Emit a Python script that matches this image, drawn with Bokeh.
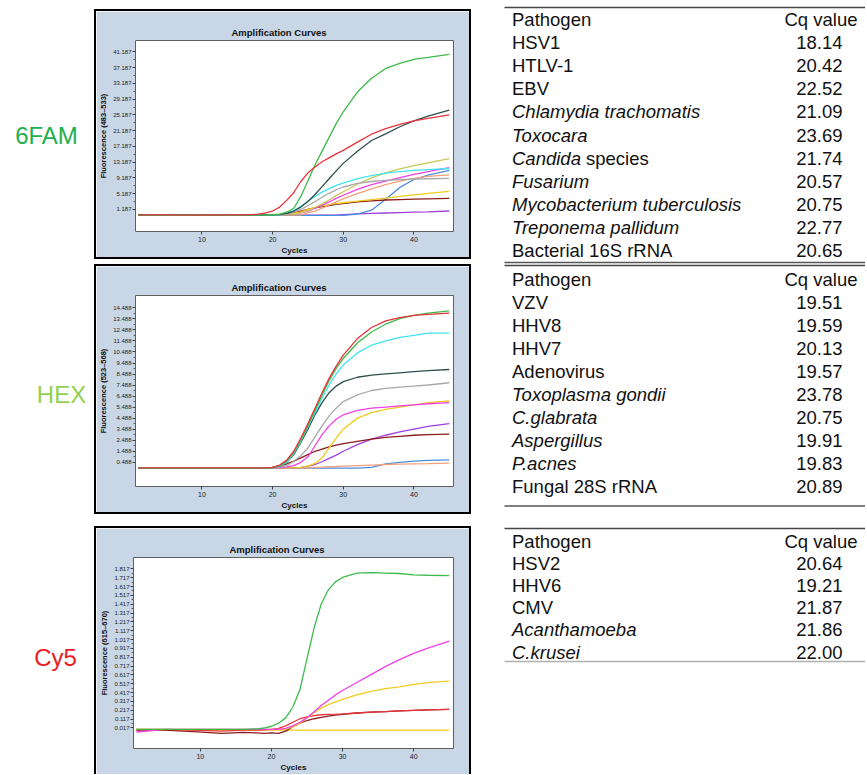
from bokeh.plotting import figure
from bokeh.layouts import row, column
from bokeh.models import (Range1d, FixedTicker, PrintfTickFormatter, Spacer, ColumnDataSource)
from bokeh.core.properties import value
from bokeh.embed import file_html
from bokeh.resources import INLINE

# ------------------------------------------------------------------ data
cycles = [1, 5, 9, 13, 16, 18, 19, 20, 21, 22, 23, 24, 25, 26, 27, 28, 29, 30,
          32, 34, 36, 38, 40, 42, 45]

# 6FAM channel (fluorescence 483-533)
fam_green = [-0.2, -0.2, -0.2, -0.2, -0.2, -0.2, -0.2, -0.15, 0.0, 0.5, 1.5, 4.5, 8.5, 12.5, 16.0, 19.5, 23.0, 26.0, 31.0, 34.5, 37.0, 38.3, 39.3, 39.8, 40.6]
fam_red = [-0.2, -0.2, -0.25, -0.2, -0.2, 0.0, 0.3, 0.8, 1.8, 3.5, 5.5, 8.3, 10.5, 12.0, 13.3, 14.3, 15.3, 16.2, 18.3, 20.3, 21.7, 22.8, 23.7, 24.3, 25.2]
fam_slate = [-0.2, -0.2, -0.2, -0.2, -0.2, -0.2, -0.2, -0.2, -0.1, 0.2, 0.8, 1.8, 3.2, 5.0, 7.0, 9.0, 11.0, 12.9, 16.0, 18.7, 20.4, 22.2, 23.7, 24.9, 26.4]
fam_cyan = [-0.2, -0.2, -0.2, -0.2, -0.2, -0.2, -0.2, -0.2, -0.2, 0.3, 0.9, 2.0, 3.3, 4.5, 5.6, 6.5, 7.3, 7.9, 9.0, 9.8, 10.4, 10.8, 11.1, 11.3, 11.6]
fam_gray = [-0.2, -0.2, -0.2, -0.2, -0.2, -0.2, -0.2, -0.2, -0.2, -0.2, 0.5, 1.2, 2.2, 3.2, 4.3, 5.3, 6.2, 6.9, 7.8, 8.3, 8.6, 8.8, 8.9, 9.0, 9.1]
fam_khaki = [-0.2, -0.2, -0.2, -0.2, -0.2, -0.2, -0.2, -0.2, -0.2, -0.2, -0.2, 0.3, 0.9, 1.7, 2.6, 3.6, 4.7, 5.7, 7.6, 9.2, 10.5, 11.5, 12.3, 13.0, 14.1]
fam_magenta = [-0.2, -0.2, -0.2, -0.2, -0.2, -0.2, -0.2, -0.2, -0.2, -0.2, -0.2, 0.3, 0.8, 1.5, 2.3, 3.1, 4.0, 4.8, 6.3, 7.5, 8.4, 9.3, 10.1, 10.8, 11.8]
fam_orange = [-0.2, -0.2, -0.2, -0.2, -0.2, -0.2, -0.2, -0.2, -0.2, -0.2, -0.2, -0.2, 0.3, 0.8, 1.5, 2.3, 3.1, 3.9, 5.2, 6.4, 7.5, 8.4, 9.1, 9.6, 10.0]
fam_blue = [-0.3, -0.3, -0.3, -0.3, -0.3, -0.3, -0.3, -0.3, -0.3, -0.3, -0.3, -0.3, -0.3, -0.3, -0.3, -0.3, -0.3, -0.3, 0.0, 1.0, 3.8, 6.8, 8.8, 9.9, 11.1]
fam_gold = [-0.2, -0.2, -0.2, -0.2, -0.2, -0.2, -0.2, -0.2, -0.2, -0.2, 0.2, 0.6, 1.2, 1.7, 2.1, 2.4, 2.7, 2.9, 3.3, 3.7, 4.1, 4.5, 4.9, 5.3, 5.8]
fam_brown = [-0.2, -0.2, -0.2, -0.2, -0.2, -0.2, -0.2, -0.2, -0.2, 0.1, 0.4, 0.8, 1.2, 1.6, 1.9, 2.2, 2.5, 2.7, 3.1, 3.4, 3.6, 3.7, 3.8, 3.9, 4.0]
fam_purple = [-0.25, -0.25, -0.25, -0.25, -0.25, -0.25, -0.25, -0.25, -0.25, -0.25, -0.25, -0.25, -0.25, -0.25, -0.25, -0.25, -0.25, -0.1, 0.1, 0.2, 0.3, 0.4, 0.5, 0.6, 0.8]

# HEX channel (fluorescence 523-568)
hex_red = [0.0, 0.0, 0.0, 0.0, 0.0, 0.0, 0.0, 0.05, 0.25, 0.7, 1.5, 2.7, 4.0, 5.4, 6.8, 8.1, 9.2, 10.2, 11.7, 12.7, 13.3, 13.6, 13.8, 13.9, 14.0]
hex_green = [0.0, 0.0, 0.0, 0.0, 0.0, 0.0, 0.0, 0.03, 0.2, 0.6, 1.4, 2.5, 3.8, 5.2, 6.6, 7.9, 9.0, 9.9, 11.3, 12.3, 13.0, 13.5, 13.8, 14.0, 14.2]
hex_cyan = [0.0, 0.0, 0.0, 0.0, 0.0, 0.0, 0.0, 0.03, 0.18, 0.5, 1.3, 2.4, 3.7, 5.0, 6.3, 7.5, 8.5, 9.3, 10.4, 11.1, 11.5, 11.8, 12.0, 12.2, 12.2]
hex_slate = [0.0, 0.0, 0.0, 0.0, 0.0, 0.0, 0.0, 0.03, 0.18, 0.5, 1.2, 2.3, 3.5, 4.8, 5.9, 6.8, 7.4, 7.8, 8.2, 8.4, 8.5, 8.6, 8.7, 8.8, 8.9]
hex_gray = [0.0, 0.0, 0.0, 0.0, 0.0, 0.0, 0.0, 0.02, 0.08, 0.2, 0.6, 1.1, 1.8, 2.8, 3.8, 4.7, 5.4, 6.0, 6.6, 7.0, 7.2, 7.3, 7.4, 7.5, 7.7]
hex_magenta = [0.0, 0.0, 0.0, 0.0, 0.0, 0.0, 0.0, 0.0, 0.03, 0.08, 0.2, 0.5, 1.0, 2.0, 3.0, 3.8, 4.4, 4.8, 5.2, 5.4, 5.5, 5.6, 5.7, 5.8, 5.9]
hex_yellow = [0.0, 0.0, 0.0, 0.0, 0.0, 0.0, 0.0, 0.0, 0.0, 0.0, 0.0, 0.05, 0.15, 0.4, 0.9, 1.8, 2.7, 3.5, 4.5, 5.0, 5.3, 5.5, 5.7, 5.9, 6.05]
hex_brown = [0.0, 0.0, 0.0, 0.0, 0.0, 0.0, 0.0, 0.05, 0.15, 0.35, 0.6, 0.9, 1.2, 1.5, 1.7, 1.9, 2.05, 2.2, 2.4, 2.6, 2.75, 2.85, 2.95, 3.0, 3.05]
hex_purple = [0.0, 0.0, 0.0, 0.0, 0.0, 0.0, 0.0, 0.0, 0.0, 0.0, 0.0, 0.05, 0.15, 0.3, 0.55, 0.85, 1.15, 1.5, 2.1, 2.6, 2.95, 3.25, 3.5, 3.75, 4.0]
hex_orange = [0.0, 0.0, 0.0, 0.0, 0.0, 0.0, 0.0, 0.0, 0.0, 0.0, 0.0, 0.0, 0.0, 0.05, 0.07, 0.1, 0.12, 0.15, 0.2, 0.25, 0.3, 0.33, 0.36, 0.38, 0.42]
hex_blue = [-0.03, -0.03, -0.03, -0.03, -0.03, -0.03, -0.03, -0.03, -0.03, -0.03, -0.03, -0.03, -0.03, -0.03, -0.03, -0.03, -0.03, -0.03, -0.03, 0.05, 0.35, 0.5, 0.6, 0.68, 0.72]

# Cy5 channel (fluorescence 615-670)
cy5_green = [0.0, 0.0, 0.0, 0.0, 0.0, 0.005, 0.015, 0.035, 0.07, 0.13, 0.25, 0.45, 0.8, 1.15, 1.42, 1.58, 1.67, 1.72, 1.77, 1.775, 1.77, 1.765, 1.75, 1.745, 1.74]
cy5_magenta = [-0.03, 0.0, 0.0, 0.0, 0.0, 0.0, 0.0, 0.0, 0.0, 0.01, 0.04, 0.08, 0.13, 0.2, 0.27, 0.33, 0.39, 0.44, 0.53, 0.62, 0.71, 0.79, 0.86, 0.92, 1.0]
cy5_yellow = [0.0, 0.0, 0.0, 0.0, 0.0, 0.0, 0.0, 0.0, 0.0, 0.0, 0.03, 0.07, 0.13, 0.19, 0.24, 0.28, 0.31, 0.34, 0.39, 0.43, 0.46, 0.48, 0.51, 0.53, 0.545]
cy5_red = [0.0, 0.0, -0.01, -0.02, -0.01, -0.01, -0.005, 0.0, 0.01, 0.04, 0.08, 0.12, 0.14, 0.155, 0.165, 0.17, 0.172, 0.175, 0.185, 0.195, 0.2, 0.21, 0.215, 0.22, 0.225]
cy5_brown = [-0.01, -0.01, -0.025, -0.045, -0.035, -0.04, -0.045, -0.04, -0.045, -0.02, 0.03, 0.07, 0.1, 0.12, 0.135, 0.15, 0.16, 0.17, 0.185, 0.195, 0.2, 0.21, 0.215, 0.22, 0.225]
cy5_gold = [-0.01, -0.01, -0.01, -0.01, -0.01, -0.01, -0.01, -0.01, -0.01, -0.01, -0.01, -0.01, -0.01, -0.01, -0.01, -0.01, -0.01, -0.01, -0.01, -0.01, -0.01, -0.01, -0.01, -0.01, -0.01]

# axis tick labels
fam_yticks = [1.187, 5.187, 9.187, 13.187, 17.187, 21.187, 25.187, 29.187, 33.187, 37.187, 41.187]
hex_yticks = [0.488, 1.488, 2.488, 3.488, 4.488, 5.488, 6.488, 7.488, 8.488, 9.488, 10.488, 11.488, 12.488, 13.488, 14.488]
cy5_yticks = [0.017, 0.117, 0.217, 0.317, 0.417, 0.517, 0.617, 0.717, 0.817, 0.917, 1.017, 1.117, 1.217, 1.317, 1.417, 1.517, 1.617, 1.717, 1.817]
x_ticks = [10, 20, 30, 40]

channels = ["6FAM", "HEX", "Cy5"]
channel_ylabels = ["Fluorescence (483–533)", "Fluorescence (523–568)", "Fluorescence (615–670)"]

# tables
fam_names = ["HSV1", "HTLV-1", "EBV", "Chlamydia trachomatis", "Toxocara", "Candida species",
             "Fusarium", "Mycobacterium tuberculosis", "Treponema pallidum", "Bacterial 16S rRNA"]
fam_italic = ["", "", "", "Chlamydia trachomatis", "Toxocara", "Candida", "Fusarium",
              "Mycobacterium tuberculosis", "Treponema pallidum", ""]
fam_cq = ["18.14", "20.42", "22.52", "21.09", "23.69", "21.74", "20.57", "20.75", "22.77", "20.65"]

hex_names = ["VZV", "HHV8", "HHV7", "Adenovirus", "Toxoplasma gondii", "C.glabrata",
             "Aspergillus", "P.acnes", "Fungal 28S rRNA"]
hex_italic = ["", "", "", "", "Toxoplasma gondii", "C.glabrata", "Aspergillus", "P.acnes", ""]
hex_cq = ["19.51", "19.59", "20.13", "19.57", "23.78", "20.75", "19.91", "19.83", "20.89"]

cy5_names = ["HSV2", "HHV6", "CMV", "Acanthamoeba", "C.krusei"]
cy5_italic = ["", "", "", "Acanthamoeba", "C.krusei"]
cy5_cq = ["20.64", "19.21", "21.87", "21.86", "22.00"]

header = ["Pathogen", "Cq value"]

# ------------------------------------------------------------------ styles / layout
C_GREEN, C_RED, C_SLATE, C_CYAN = "#3dbb4a", "#e8343a", "#2f4f4f", "#40e4f0"
C_GRAY, C_KHAKI, C_MAG, C_ORANGE = "#a8a8a8", "#c8c858", "#f040e8", "#f4a07a"
C_BLUE, C_GOLD, C_BROWN, C_PURPLE = "#4a8ee0", "#f0cc20", "#8b1c1c", "#a040e0"

PANEL_BG = "#c8d6e6"
PANEL_W = 377
BW = 2                      # black panel border
FONT = "Liberation Sans"
BLACK = {"background-color": "#000000"}


def chart(curves, colors, y_lo, y_hi, yticks, ylabel, panel_h, bottom_bar=True):
    fig_h = panel_h - BW - (BW if bottom_bar else 0)
    p = figure(width=PANEL_W - 2 * BW, height=fig_h,
               x_range=Range1d(0.6, 45.6), y_range=Range1d(y_lo, y_hi),
               output_backend="svg", toolbar_location=None,
               min_border_left=39 - BW, min_border_right=18 - BW,
               min_border_top=31 - BW, min_border_bottom=fig_h - (31 - BW) - 194)
    p.background_fill_color = "white"
    p.border_fill_color = PANEL_BG
    p.outline_line_color = "#606060"
    p.outline_line_width = 1
    p.grid.visible = False

    p.title.text = "Amplification Curves"
    p.title.text_font = FONT
    p.title.text_font_size = "9.5px"
    p.title.text_font_style = "bold"
    p.title.text_color = "#111111"
    p.title.align = "left"
    p.title.offset = 96
    p.title.standoff = 5

    xa = p.xaxis[0]
    xa.ticker = FixedTicker(ticks=x_ticks, minor_ticks=[])
    xa.axis_label = "Cycles"
    ya = p.yaxis[0]
    minor = [(a + b) / 2 for a, b in zip(yticks, yticks[1:])]
    ya.ticker = FixedTicker(ticks=yticks, minor_ticks=minor)
    ya.formatter = PrintfTickFormatter(format="%.3f")
    ya.axis_label = ylabel
    for ax in (xa, ya):
        ax.axis_line_color = None
        ax.major_tick_line_color = "#404040"
        ax.minor_tick_line_color = "#606060"
        ax.major_tick_in = 0
        ax.major_tick_out = 3
        ax.minor_tick_in = 0
        ax.minor_tick_out = 2
        ax.major_label_text_font = FONT
        ax.major_label_text_color = "#222222"
        ax.major_label_standoff = 1
        ax.axis_label_text_font = FONT
        ax.axis_label_text_font_style = "bold"
        ax.axis_label_text_color = "#111111"
        ax.axis_label_standoff = 2
    xa.major_label_text_font_size = "7px"
    ya.major_label_text_font_size = "6px"
    xa.axis_label_text_font_size = "8px"
    ya.axis_label_text_font_size = "7.5px"
    xa.axis_label_standoff = 1
    xa.major_label_standoff = 2

    for vals, col in zip(curves, colors):
        p.line(cycles, vals, line_color=col, line_width=1.3)

    side_h = fig_h
    parts = [Spacer(width=PANEL_W, height=BW, styles=BLACK),
             row(Spacer(width=BW, height=side_h, styles=BLACK), p,
                 Spacer(width=BW, height=side_h, styles=BLACK), spacing=0)]
    if bottom_bar:
        parts.append(Spacer(width=PANEL_W, height=BW, styles=BLACK))
    return column(*parts, spacing=0)


fam_panel = chart(
    [fam_purple, fam_blue, fam_brown, fam_gold, fam_orange, fam_magenta, fam_khaki,
     fam_gray, fam_cyan, fam_slate, fam_green, fam_red],
    [C_PURPLE, C_BLUE, C_BROWN, C_GOLD, C_ORANGE, C_MAG, C_KHAKI, C_GRAY, C_CYAN,
     C_SLATE, C_GREEN, C_RED],
    -4.4, 44.1, fam_yticks, channel_ylabels[0], 250)

hex_panel = chart(
    [hex_blue, hex_orange, hex_purple, hex_brown, hex_yellow, hex_magenta, hex_gray,
     hex_slate, hex_cyan, hex_green, hex_red],
    [C_BLUE, C_ORANGE, C_PURPLE, C_BROWN, C_GOLD, C_MAG, C_GRAY, C_SLATE, C_CYAN,
     C_GREEN, C_RED],
    -1.69, 15.6, hex_yticks, channel_ylabels[1], 250)

cy5_panel = chart(
    [cy5_gold, cy5_brown, cy5_red, cy5_yellow, cy5_magenta, cy5_green],
    [C_GOLD, C_BROWN, C_RED, C_GOLD, C_MAG, C_GREEN],
    -0.217, 1.946, cy5_yticks, channel_ylabels[2], 248, bottom_bar=False)

PAGE_H = 774

# ---- left labels (coordinates = screenshot pixels)
left = figure(width=94, height=PAGE_H, x_range=Range1d(1, 95), y_range=Range1d(775, 1),
              output_backend="svg", toolbar_location=None, x_axis_type=None, y_axis_type=None,
              min_border=0)
left.outline_line_color = None
left.grid.visible = False
label_layout = dict(x=[47, 62, 56], y=[136, 395, 658])
left.text(x=label_layout["x"], y=label_layout["y"], text=channels,
          text_color=["#1eb050", "#92d050", "#ea1c24"],
          text_font=value(FONT), text_font_size="24px", text_align="center",
          text_baseline="middle")

# ---- tables (coordinates = screenshot pixels)
tab = figure(width=394, height=PAGE_H, x_range=Range1d(472, 866), y_range=Range1d(775, 1),
             output_backend="svg", toolbar_location=None, x_axis_type=None, y_axis_type=None,
             min_border=0)
tab.outline_line_color = None
tab.grid.visible = False

TX_L, TX_CQ, TX_NUM, LINE_L, LINE_R = 512.5, 858, 843, 505, 866
TFS = 18.5
table_layout = [
    dict(names=fam_names, italic=fam_italic, cq=fam_cq, top=8, head=20, first=43.1, step=23.1,
         bottom=263, bottom_color="#555555"),
    dict(names=hex_names, italic=hex_italic, cq=hex_cq, top=266, head=280, first=303.3, step=23.0,
         bottom=506.5, bottom_color="#555555"),
    dict(names=cy5_names, italic=cy5_italic, cq=cy5_cq, top=529, head=541.5, first=563.5, step=22.3,
         bottom=662, bottom_color="#b0b0b0"),
]
ARIAL_W = {"C": 722, "a": 556, "n": 556, "d": 556, "i": 222, " ": 278}

reg = dict(x=[], y=[], t=[])
ita = dict(x=[], y=[], t=[])
nums = dict(x=[], y=[], t=[])
heads_l = dict(x=[], y=[], t=[])
heads_r = dict(x=[], y=[], t=[])
seg = dict(x0=[], x1=[], y0=[], y1=[], c=[])

for t in table_layout:
    heads_l["x"].append(TX_L); heads_l["y"].append(t["head"]); heads_l["t"].append(header[0])
    heads_r["x"].append(TX_CQ); heads_r["y"].append(t["head"]); heads_r["t"].append(header[1])
    for i, (nm, it, cq) in enumerate(zip(t["names"], t["italic"], t["cq"])):
        y = t["first"] + i * t["step"]
        if it == nm:
            ita["x"].append(TX_L); ita["y"].append(y); ita["t"].append(nm)
        elif it and nm.startswith(it):
            ita["x"].append(TX_L); ita["y"].append(y); ita["t"].append(it)
            off = sum(ARIAL_W.get(ch, 556) for ch in it + " ") / 1000 * TFS
            reg["x"].append(TX_L + off); reg["y"].append(y); reg["t"].append(nm[len(it):].strip())
        else:
            reg["x"].append(TX_L); reg["y"].append(y); reg["t"].append(nm)
        nums["x"].append(TX_NUM); nums["y"].append(y); nums["t"].append(cq)
    for yy, c in ((t["top"], "#444444"), (t["bottom"], t["bottom_color"])):
        seg["x0"].append(LINE_L); seg["x1"].append(LINE_R)
        seg["y0"].append(yy); seg["y1"].append(yy)
        seg["c"].append(c)

tab.segment(x0="x0", x1="x1", y0="y0", y1="y1", line_width=1.6, line_color="c",
            source=ColumnDataSource(seg))
common = dict(text_font=value(FONT), text_font_size=f"{TFS}px", text_color="#111111",
              text_baseline="middle")
tab.text(x="x", y="y", text="t", source=ColumnDataSource(heads_l), text_align="left", **common)
tab.text(x="x", y="y", text="t", source=ColumnDataSource(heads_r), text_align="right", **common)
tab.text(x="x", y="y", text="t", source=ColumnDataSource(reg), text_align="left", **common)
tab.text(x="x", y="y", text="t", source=ColumnDataSource(ita), text_align="left",
         text_font_style="italic", **common)
tab.text(x="x", y="y", text="t", source=ColumnDataSource(nums), text_align="right", **common)

charts = column(Spacer(width=PANEL_W, height=9), fam_panel, Spacer(width=PANEL_W, height=5),
                hex_panel, Spacer(width=PANEL_W, height=12), cy5_panel, spacing=0)
page = row(left, charts, tab, spacing=0)

open("out.html", "w").write(file_html(page, INLINE))
